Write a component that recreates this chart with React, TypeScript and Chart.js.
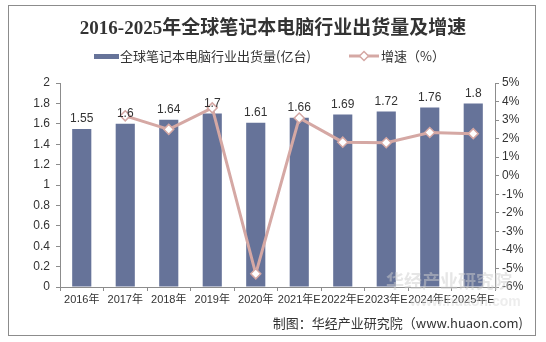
import React, { useEffect, useRef } from "react";
import { Chart, registerables } from "chart.js";

Chart.register(...registerables);

const categories = ["2016年", "2017年", "2018年", "2019年", "2020年", "2021年E", "2022年E", "2023年E", "2024年E", "2025年E"];
const shipments = [1.55, 1.6, 1.64, 1.7, 1.61, 1.66, 1.69, 1.72, 1.76, 1.8];
const shipmentLabels = ["1.55", "1.6", "1.64", "1.7", "1.61", "1.66", "1.69", "1.72", "1.76", "1.8"];
const growth = [null, 3.23, 2.5, 3.66, -5.29, 3.11, 1.81, 1.78, 2.33, 2.27];

const titleText = "2016-2025年全球笔记本电脑行业出货量及增速";
const legendBar = "全球笔记本电脑行业出货量(亿台)";
const legendLine = "增速（%）";
const sourceText = "制图：华经产业研究院（www.huaon.com)";
const watermark = "华经产业研究院";
const watermarkUrl = "www.huaon.com";

const BAR = "#667399";
const LINE = "#d5a8a4";
const AXIS = "#8c8c8c";
const TXT = "#333333";
const CJK = "'Liberation Sans', 'Noto Sans CJK SC', sans-serif";

export default function App() {
  const ref = useRef<HTMLCanvasElement | null>(null);
  useEffect(() => {
    if (!ref.current) return;
    const deco = {
      id: "deco",
      afterDraw(chart: any) {
        const ctx = chart.ctx;
        ctx.save();
        // watermark
        ctx.fillStyle = "rgba(205,205,205,0.5)";
        ctx.font = "bold 18px 'Noto Sans CJK SC', sans-serif";
        ctx.textAlign = "left";
        ctx.textBaseline = "middle";
        ctx.fillText(watermark, 386, 281);
        ctx.fillStyle = "rgba(215,215,215,0.45)";
        ctx.font = "bold 14px 'Liberation Sans', sans-serif";
        ctx.fillText(watermarkUrl, 410, 302);
        // title
        ctx.fillStyle = TXT;
        ctx.textAlign = "center";
        ctx.textBaseline = "middle";
        ctx.font = "bold 19px 'Liberation Serif', 'Noto Sans CJK SC', serif";
        ctx.fillText(titleText, 273, 29);
        // legend
        ctx.fillStyle = BAR;
        ctx.fillRect(94, 54, 25, 5);
        ctx.fillStyle = TXT;
        ctx.textAlign = "left";
        ctx.font = "13px 'Noto Sans CJK SC', sans-serif";
        ctx.fillText(legendBar, 120, 56);
        ctx.strokeStyle = LINE;
        ctx.lineWidth = 3;
        ctx.beginPath();
        ctx.moveTo(349, 56);
        ctx.lineTo(379, 56);
        ctx.stroke();
        ctx.fillStyle = "#fff";
        ctx.lineWidth = 1.5;
        ctx.beginPath();
        ctx.moveTo(364, 51.5);
        ctx.lineTo(368.5, 56);
        ctx.lineTo(364, 60.5);
        ctx.lineTo(359.5, 56);
        ctx.closePath();
        ctx.fill();
        ctx.stroke();
        ctx.fillStyle = TXT;
        ctx.fillText(legendLine, 381, 56);
        // source
        ctx.textAlign = "right";
        ctx.font = "13px 'Noto Sans CJK SC', sans-serif";
        ctx.fillText(sourceText, 523, 323);
        // bar labels
        const meta = chart.getDatasetMeta(0);
        ctx.textAlign = "center";
        ctx.textBaseline = "bottom";
        ctx.font = "12px 'Liberation Sans', sans-serif";
        ctx.fillStyle = TXT;
        meta.data.forEach((el: any, i: number) => {
          ctx.fillText(shipmentLabels[i], el.x, el.y - 4);
        });
        ctx.restore();
      },
    };
    const chart = new Chart(ref.current, {
      type: "bar",
      data: {
        labels: categories,
        datasets: [
          {
            type: "bar",
            label: legendBar,
            data: shipments,
            backgroundColor: BAR,
            barPercentage: 0.44,
            categoryPercentage: 1,
            yAxisID: "y",
            order: 2,
          },
          {
            type: "line",
            label: legendLine,
            data: growth as any,
            borderColor: LINE,
            borderWidth: 3,
            pointStyle: "rectRot",
            pointRadius: 5,
            pointBackgroundColor: "#ffffff",
            pointBorderColor: LINE,
            pointBorderWidth: 1.5,
            yAxisID: "y1",
            order: 1,
            spanGaps: false,
          },
        ],
      },
      options: {
        animation: false,
        responsive: false,
        maintainAspectRatio: false,
        layout: { padding: { top: 83, left: 0, right: 0, bottom: 0 } },
        plugins: { legend: { display: false }, title: { display: false }, tooltip: { enabled: false } },
        scales: {
          x: {
            afterFit: (s: any) => { s.height = 55; },
            grid: { display: true, drawOnChartArea: false, drawTicks: true, tickLength: 4, color: AXIS },
            border: { display: true, color: AXIS },
            ticks: { color: TXT, font: { size: 11, family: CJK }, maxRotation: 0, autoSkip: false, padding: 2 },
          },
          y: {
            position: "left",
            min: 0,
            max: 2,
            afterFit: (s: any) => { s.width = 60; },
            grid: { display: true, drawOnChartArea: false, drawTicks: true, tickLength: 4, color: AXIS },
            border: { display: true, color: AXIS },
            ticks: { stepSize: 0.2, color: TXT, font: { size: 12, family: "'Liberation Sans', sans-serif" }, padding: 6, callback: (v: any) => String(Math.round(Number(v) * 10) / 10) },
          },
          y1: {
            position: "right",
            min: -6,
            max: 5,
            afterFit: (s: any) => { s.width = 51; },
            grid: { display: true, drawOnChartArea: false, drawTicks: true, tickLength: 4, color: AXIS },
            border: { display: true, color: AXIS },
            ticks: { stepSize: 1, color: TXT, font: { size: 12, family: "'Liberation Sans', sans-serif" }, padding: 3, callback: (v: any) => `${v}%` },
          },
        },
      },
      plugins: [deco],
    });
    return () => chart.destroy();
  }, []);
  return (
    <div style={{ position: "absolute", left: 0, top: 0, width: 546, height: 342, background: "#fff" }}>
      <div style={{ position: "absolute", left: 8, top: 5, width: 528, height: 331, border: "1px solid #8c8c8c", boxSizing: "border-box" }} />
      <canvas ref={ref} width={546} height={342} style={{ position: "absolute", left: 0, top: 0, width: 546, height: 342 }} />
    </div>
  );
}
